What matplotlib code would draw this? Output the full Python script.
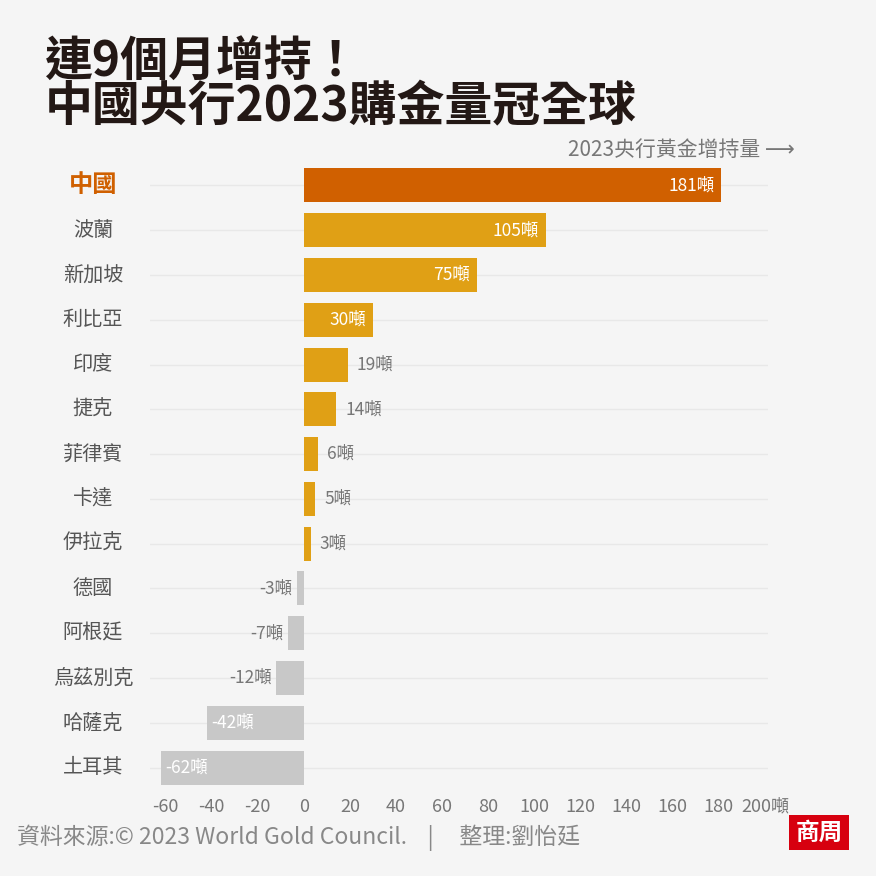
import matplotlib
matplotlib.use("Agg")
from matplotlib import pyplot as plt
from matplotlib.patches import Rectangle

plt.rcParams['font.family'] = ['Noto Sans CJK TC', 'DejaVu Sans']

# data
countries = ["中國", "波蘭", "新加坡", "利比亞", "印度", "捷克", "菲律賓", "卡達",
             "伊拉克", "德國", "阿根廷", "烏茲別克", "哈薩克", "土耳其"]
tonnes = [181, 105, 75, 30, 19, 14, 6, 5, 3, -3, -7, -12, -42, -62]
x_ticks = [-60, -40, -20, 0, 20, 40, 60, 80, 100, 120, 140, 160, 180, 200]
x_tick_labels = ["-60", "-40", "-20", "0", "20", "40", "60", "80", "100",
                 "120", "140", "160", "180", "200噸"]

BG = "#F5F5F5"
CHINA = "#D06000"
GOLD = "#E0A015"
GREY_BAR = "#C8C8C8"
TEXT_GREY = "#777777"

fig = plt.figure(figsize=(8.76, 8.76), dpi=100, facecolor=BG)
# axes placed in pixel terms: left 150, right 768, top 163, bottom 790
ax = fig.add_axes([150 / 876, 1 - 790 / 876, 618 / 876, 627 / 876], facecolor=BG)

ypos = list(range(len(countries)))
colors = []
for i, v in enumerate(tonnes):
    if i == 0:
        colors.append(CHINA)
    elif v > 0:
        colors.append(GOLD)
    else:
        colors.append(GREY_BAR)

ax.barh(ypos, tonnes, height=0.76, color=colors, zorder=3)
ax.set_ylim(len(countries) - 0.5, -0.5)
ax.set_xlim(-66.7, 201.3)

# faint row lines
for y in ypos:
    ax.axhline(y, color="#E8E8E8", lw=1.0, zorder=1)

# value labels
for y, v in zip(ypos, tonnes):
    txt = f"{v}噸"
    if v >= 30:
        ax.text(v - 3, y, txt, ha="right", va="center", color="white", fontsize=12.5, zorder=4)
    elif v > 0:
        ax.text(v + 4, y, txt, ha="left", va="center", color=TEXT_GREY, fontsize=12.5, zorder=4)
    elif v > -30:
        ax.text(v - 2, y, txt, ha="right", va="center", color=TEXT_GREY, fontsize=12.5, zorder=4)
    else:
        ax.text(v + 2, y, txt, ha="left", va="center", color="white", fontsize=12.5, zorder=4)

ax.set_xticks(x_ticks)
ax.set_xticklabels(x_tick_labels)
ax.tick_params(axis="x", length=0, labelsize=13, labelcolor=TEXT_GREY, pad=6)
ax.set_yticks([])
for s in ax.spines.values():
    s.set_visible(False)

# category labels, centred at pixel x = 93
lab_x = (93 - 150) / 618
for y, name in zip(ypos, countries):
    if y == 0:
        ax.text(lab_x, y, name, transform=ax.get_yaxis_transform(), ha="center", va="center",
                fontsize=17.5, fontweight="bold", color=CHINA)
    else:
        ax.text(lab_x, y, name, transform=ax.get_yaxis_transform(), ha="center", va="center",
                fontsize=14.5, color="#555555")

# title
fig.text(45 / 876, 1 - 62 / 876, "連9個月增持！", fontsize=34.5, fontweight="bold",
         color="#231815", va="center", ha="left")
fig.text(45 / 876, 1 - 107 / 876, "中國央行2023購金量冠全球", fontsize=34.5, fontweight="bold",
         color="#231815", va="center", ha="left")

fig.text(795 / 876, 1 - 150 / 876, "2023央行黃金增持量 ⟶", fontsize=15, color=TEXT_GREY,
         ha="right", va="center")

# footer
fig.text(17 / 876, 1 - 838 / 876,
         "資料來源:© 2023 World Gold Council.    |     整理:劉怡廷",
         fontsize=16.5, color="#888888", ha="left", va="center")

# logo box
logo = Rectangle((789 / 876, 1 - 850 / 876), 60 / 876, 35 / 876, transform=fig.transFigure,
                 facecolor="#D7000F", edgecolor="none")
fig.patches.append(logo)
fig.text(819 / 876, 1 - 833 / 876, "商周", fontsize=17, fontweight="bold", color="white",
         ha="center", va="center")

fig.savefig("out.png", dpi=100, facecolor=BG)
